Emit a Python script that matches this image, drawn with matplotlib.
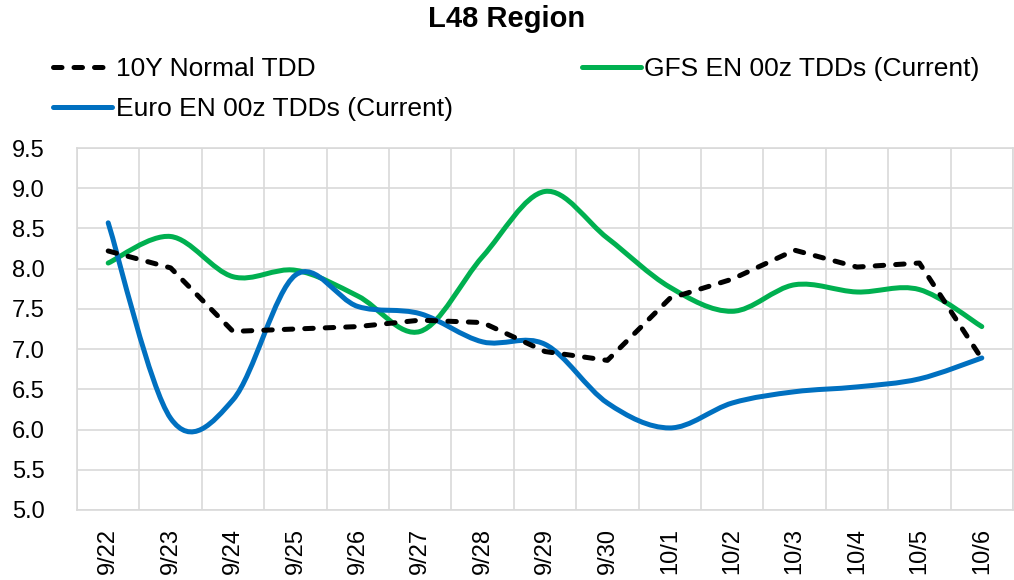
import numpy as np
import matplotlib.pyplot as plt
from matplotlib.path import Path
from matplotlib.patches import PathPatch
from matplotlib.lines import Line2D

plt.rcParams['font.family'] = ['Liberation Sans', 'DejaVu Sans']

dates = ["9/22", "9/23", "9/24", "9/25", "9/26", "9/27", "9/28", "9/29",
         "9/30", "10/1", "10/2", "10/3", "10/4", "10/5", "10/6"]
normal_10y = [8.22, 8.01, 7.22, 7.25, 7.28, 7.36, 7.33, 6.97,
              6.86, 7.63, 7.87, 8.23, 8.02, 8.07, 6.88]
gfs_en = [8.07, 8.40, 7.90, 7.98, 7.66, 7.22, 8.15, 8.96,
          8.38, 7.77, 7.47, 7.80, 7.71, 7.74, 7.28]
euro_en = [8.57, 6.14, 6.37, 7.92, 7.53, 7.44, 7.09, 7.06,
           6.33, 6.02, 6.33, 6.47, 6.53, 6.63, 6.89]

BLUE = "#0070C0"
GREEN = "#00B050"
GRID = "#D9D9D9"


def smooth_path(xs, ys):
    # excel style smoothed line: catmull-rom as cubic bezier segments
    pts = np.column_stack([xs, ys]).astype(float)
    n = len(pts)
    verts = [pts[0]]
    codes = [Path.MOVETO]
    for i in range(n - 1):
        p0 = pts[i - 1] if i > 0 else pts[i]
        p1 = pts[i]
        p2 = pts[i + 1]
        p3 = pts[i + 2] if i + 2 < n else pts[i + 1]
        c1 = p1 + (p2 - p0) / 6.0
        c2 = p2 - (p3 - p1) / 6.0
        verts += [c1, c2, p2]
        codes += [Path.CURVE4] * 3
    return Path(verts, codes)


fig = plt.figure(figsize=(10.14, 5.8), dpi=100)
ax = fig.add_axes([77 / 1014, 1 - 510 / 580, 936 / 1014, 362 / 580])

x = np.arange(len(dates))
lw = 3.6

ax.plot(x, normal_10y, color="black", lw=lw, linestyle=(0, (1.7, 2.4)),
        dash_capstyle="round", zorder=4)
for vals, col in [(gfs_en, GREEN), (euro_en, BLUE)]:
    ax.add_patch(PathPatch(smooth_path(x, vals), fill=False, edgecolor=col,
                           lw=lw, capstyle="round", joinstyle="round", zorder=3))

ax.set_xlim(-0.5, len(dates) - 0.5)
ax.set_ylim(5.0, 9.5)
ax.set_yticks(np.arange(5.0, 9.51, 0.5))
ax.set_yticklabels([f"{v:.1f}" for v in np.arange(5.0, 9.51, 0.5)])
ax.set_xticks(x)
ax.set_xticklabels(dates, rotation=90)
ax.set_xticks(np.arange(-0.5, len(dates), 1.0), minor=True)
ax.tick_params(axis="both", which="both", length=0, labelsize=17)
ax.tick_params(axis="y", pad=23)
ax.tick_params(axis="x", pad=13)
ax.grid(True, which="minor", axis="x", color=GRID, lw=1.2)
ax.grid(True, which="major", axis="y", color=GRID, lw=1.2)
for s in ax.spines.values():
    s.set_color(GRID)
    s.set_linewidth(1.2)
ax.set_axisbelow(True)

fig.text(0.5, 1 - 19 / 580, "L48 Region", ha="center", va="center",
         fontsize=21, fontweight="bold")

handles = [
    Line2D([], [], color="black", lw=lw, linestyle=(0, (1.7, 2.4)), dash_capstyle="round"),
    Line2D([], [], color=BLUE, lw=lw, solid_capstyle="round"),
    Line2D([], [], color=GREEN, lw=lw, solid_capstyle="round"),
]
labels = ["10Y Normal TDD", "Euro EN 00z TDDs (Current)", "GFS EN 00z TDDs (Current)"]
fig.legend(handles, labels, ncol=2, loc="upper left",
           bbox_to_anchor=(53 / 1014, 1 - 57 / 580), frameon=False,
           fontsize=19, handlelength=2.25, handletextpad=0.12,
           columnspacing=4.9, labelspacing=0.6, borderpad=0, borderaxespad=0)

fig.savefig("out.png", dpi=100)
